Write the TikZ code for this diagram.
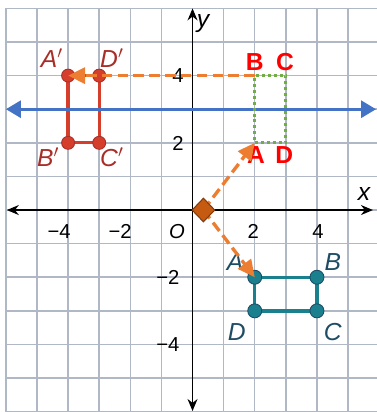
\documentclass[tikz,border=0pt]{standalone}
\usepackage{fontspec}
\setmainfont{Liberation Sans}
\usetikzlibrary{arrows.meta,shapes.geometric}
\definecolor{gridc}{RGB}{176,184,198}
\definecolor{redr}{RGB}{214,62,44}
\definecolor{redl}{RGB}{168,46,40}
\definecolor{tealr}{RGB}{26,128,142}
\definecolor{teall}{RGB}{30,76,100}
\definecolor{greend}{RGB}{112,173,71}
\definecolor{bluel}{RGB}{68,114,196}
\definecolor{orangel}{RGB}{237,125,49}
\definecolor{diamf}{RGB}{197,90,17}
\definecolor{diamd}{RGB}{130,58,12}
\definecolor{redt}{RGB}{255,0,0}
\tikzset{
  gridline/.style={draw=gridc,line width=0.85pt},
  axisline/.style={draw=black,line width=0.75pt,{Stealth[length=0.24cm,width=0.2cm]}-{Stealth[length=0.24cm,width=0.2cm]}},
  ticklab/.style={font=\fontsize{11.5}{12}\selectfont,inner sep=0pt},
  axlab/.style={font=\fontsize{14}{15}\selectfont\itshape,inner sep=0pt},
  redpt/.style={circle,fill=redr,draw=redl,line width=0.5pt,minimum size=0.26cm,inner sep=0pt},
  tealpt/.style={circle,fill=tealr,draw=teall,line width=0.5pt,minimum size=0.28cm,inner sep=0pt},
  redlab/.style={font=\fontsize{14}{15}\selectfont\itshape,text=redl,inner sep=0pt},
  teallab/.style={font=\fontsize{14}{15}\selectfont\itshape,text=teall,inner sep=0pt},
  boldlab/.style={font=\fontsize{14}{15}\selectfont\bfseries,text=redt,inner sep=0pt},
  redrect/.style={draw=redr,line width=1.9pt},
  tealrect/.style={draw=tealr,line width=1.9pt},
  greenrect/.style={draw=greend,line width=1.7pt,dash pattern=on 1.7pt off 1.7pt},
  bluearrow/.style={draw=bluel,line width=1.7pt,{Triangle[length=0.3cm,width=0.34cm]}-{Triangle[length=0.3cm,width=0.34cm]}},
  orarrow/.style={draw=orangel,line width=1.9pt,dash pattern=on 6pt off 3pt,-{Triangle[length=0.34cm,width=0.32cm]}},
  diam/.style={diamond,fill=diamf,draw=diamd,line width=0.6pt,minimum width=0.46cm,minimum height=0.48cm,inner sep=0pt}
}
\begin{document}
\begin{tikzpicture}[x=0.622cm,y=0.672cm]
\useasboundingbox (-6.19,-6.01) rectangle (5.93,6.25);
\fill[white] (-6.19,-6.01) rectangle (5.93,6.25);
% grid
\foreach \i in {-6,...,5} \draw[gridline] (\i,-6) -- (\i,6);
\foreach \j in {-6,...,6} \draw[gridline] (-6,\j) -- (5.93,\j);
% axes
\coordinate (xl) at (-5.97,0);
\coordinate (xr) at (5.8,0);
\coordinate (yt) at (0,6.0);
\coordinate (yb) at (0,-5.98);
\draw[axisline] (xl) -- (xr);
\draw[axisline] (yb) -- (yt);
\node[axlab] (xlab) at (5.51,0.48) {x};
\node[axlab] (ylab) at (0.34,5.56) {y};
% tick labels
\node[ticklab] (tm4) at (-4.29,-0.65) {−4};
\node[ticklab] (tm2) at (-2.33,-0.65) {−2};
\node[ticklab,font=\fontsize{11.5}{12}\selectfont\itshape] (tO) at (-0.5,-0.65) {O};
\node[ticklab] (tp2) at (1.95,-0.65) {2};
\node[ticklab] (tp4) at (4.03,-0.65) {4};
\node[ticklab] (ty4) at (-0.47,3.99) {4};
\node[ticklab] (ty2) at (-0.47,1.99) {2};
\node[ticklab] (tym2) at (-0.79,-2.0) {−2};
\node[ticklab] (tym4) at (-0.79,-3.99) {−4};
% red image rectangle
\coordinate (rA) at (-4,4);
\coordinate (rD) at (-3,4);
\coordinate (rB) at (-4,2);
\coordinate (rC) at (-3,2);
\draw[redrect] (rA) -- (rD) -- (rC) -- (rB) -- cycle;
\node[redpt] (pA1) at (rA) {};
\node[redpt] (pD1) at (rD) {};
\node[redpt] (pB1) at (rB) {};
\node[redpt] (pC1) at (rC) {};
\node[redlab] (lA1) at (-4.52,4.52) {A$'$};
\node[redlab] (lD1) at (-2.59,4.52) {D$'$};
\node[redlab] (lB1) at (-4.64,1.58) {B$'$};
\node[redlab] (lC1) at (-2.59,1.58) {C$'$};
% blue line
\coordinate (bl) at (-6.0,3);
\coordinate (br) at (5.9,3);
\draw[bluearrow] (bl) -- (br);
% green dotted rectangle
\coordinate (gA) at (2,2);
\coordinate (gD) at (3,2);
\coordinate (gC) at (3,4);
\coordinate (gB) at (2,4);
\draw[greenrect] (gA) -- (gD) -- (gC) -- (gB) -- cycle;
\node[boldlab] (lgB) at (2.0,4.4) {B};
\node[boldlab] (lgC) at (2.97,4.4) {C};
\node[boldlab] (lgA) at (2.04,1.64) {A};
\node[boldlab] (lgD) at (2.95,1.64) {D};
% teal rectangle
\coordinate (tA) at (2,-2);
\coordinate (tB) at (4,-2);
\coordinate (tC) at (4,-3);
\coordinate (tD) at (2,-3);
\draw[tealrect] (tA) -- (tB) -- (tC) -- (tD) -- cycle;
\node[tealpt] (pA) at (tA) {};
\node[tealpt] (pB) at (tB) {};
\node[tealpt] (pC) at (tC) {};
\node[tealpt] (pD) at (tD) {};
\node[teallab] (lA) at (1.37,-1.54) {A};
\node[teallab] (lB) at (4.51,-1.54) {B};
\node[teallab] (lD) at (1.42,-3.63) {D};
\node[teallab] (lC) at (4.51,-3.63) {C};
% orange arrows
\coordinate (dmc) at (0.35,0);
\draw[orarrow] (gB) -- (pA1.center);
\draw[orarrow] (dmc) -- (gA);
\draw[orarrow] (dmc) -- (pA.center);
\node[diam] (dm) at (dmc) {};
\end{tikzpicture}
\end{document}
